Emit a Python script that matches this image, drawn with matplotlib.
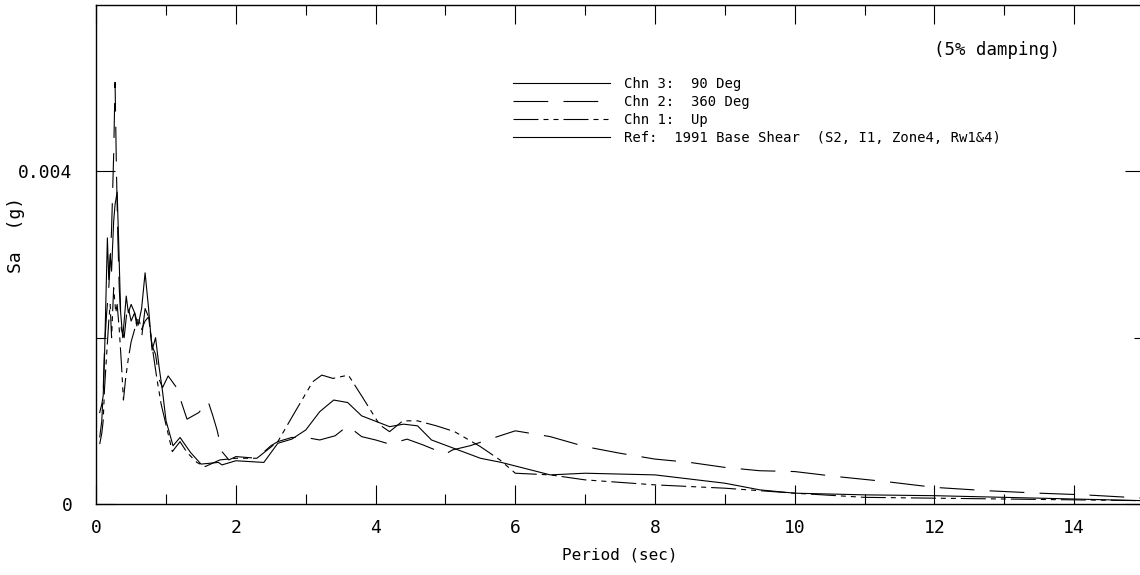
import numpy as np
import matplotlib
matplotlib.use("Agg")
import matplotlib.pyplot as plt
from matplotlib.lines import Line2D
from matplotlib.ticker import MultipleLocator, FixedLocator

# response spectra (Sa in g, period in sec)
chn3_period = [0.05, 0.08, 0.1, 0.12, 0.14, 0.16, 0.18, 0.2, 0.22, 0.25, 0.27, 0.3,
               0.32, 0.35, 0.38, 0.4, 0.43, 0.46, 0.5, 0.55, 0.6, 0.65, 0.7, 0.75,
               0.8, 0.85, 0.9, 0.95, 1.0, 1.1, 1.2, 1.35, 1.5, 1.75, 1.8, 2.0, 2.4,
               2.6, 2.8, 3.0, 3.2, 3.4, 3.6, 3.8, 4.2, 4.4, 4.6, 4.8, 5.5, 5.8, 6.5,
               7.0, 8.0, 9.0, 9.5, 10.0, 11.0, 12.0, 13.0, 14.0, 15.0]
chn3_sa = [1.10, 1.20, 1.30, 1.80, 2.50, 3.20, 2.70, 3.00, 2.80, 3.40, 3.60, 3.75,
           3.20, 2.30, 2.00, 2.20, 2.50, 2.30, 2.40, 2.30, 2.15, 2.35, 2.78, 2.35,
           1.85, 2.00, 1.65, 1.35, 1.00, 0.70, 0.80, 0.62, 0.48, 0.50, 0.47, 0.52, 0.50,
           0.73, 0.78, 0.89, 1.11, 1.25, 1.22, 1.06, 0.93, 0.96, 0.94, 0.77, 0.55, 0.50, 0.35,
           0.37, 0.35, 0.25, 0.17, 0.13, 0.11, 0.10, 0.08, 0.06, 0.04]

chn2_period = [0.05, 0.08, 0.1, 0.12, 0.15, 0.18, 0.2, 0.22, 0.25, 0.27, 0.29, 0.31,
               0.33, 0.36, 0.4, 0.45, 0.5, 0.55, 0.6, 0.65, 0.7, 0.75, 0.8, 0.85, 0.9,
               0.95, 1.03, 1.15, 1.3, 1.47, 1.6, 1.67, 1.73, 1.8, 1.9, 2.0, 2.3, 2.5,
               2.6, 2.8, 3.0, 3.2, 3.42, 3.6, 3.8, 4.0, 4.2, 4.45, 4.68, 5.0, 5.1, 5.35,
               5.78, 6.0, 6.5, 7.0, 7.5, 8.0, 8.5, 9.0, 9.5, 10.0, 10.6, 11.3, 12.0,
               12.75, 13.5, 14.15, 15.0]
chn2_sa = [0.80, 1.00, 1.35, 1.90, 2.30, 2.60, 2.90, 3.30, 4.20, 5.07, 4.00, 3.20,
           2.60, 2.10, 2.00, 2.40, 2.20, 2.30, 2.05, 2.00, 2.35, 2.25, 1.90, 1.80, 1.50,
           1.40, 1.54, 1.40, 1.02, 1.10, 1.24, 1.06, 0.89, 0.63, 0.53, 0.57, 0.55, 0.70,
           0.75, 0.80, 0.80, 0.77, 0.82, 0.94, 0.81, 0.77, 0.72, 0.78, 0.71, 0.60, 0.65, 0.70,
           0.82, 0.88, 0.81, 0.69, 0.61, 0.54, 0.50, 0.44, 0.40, 0.39, 0.33, 0.27, 0.20,
           0.16, 0.13, 0.11, 0.07]

chn1_period = [0.05, 0.08, 0.1, 0.12, 0.15, 0.18, 0.2, 0.22, 0.25, 0.28, 0.3, 0.33,
               0.36, 0.39, 0.42, 0.46, 0.5, 0.55, 0.6, 0.65, 0.7, 0.75, 0.8, 0.87, 0.93,
               1.0, 1.09, 1.2, 1.3, 1.44, 1.56, 1.77, 2.0, 2.3, 2.6, 2.82, 3.1, 3.23, 3.39,
               3.61, 3.8, 4.06, 4.2, 4.39, 4.6, 4.87, 5.13, 5.5, 5.78, 6.0, 6.5, 7.0, 8.0,
               9.0, 9.5, 10.0, 11.0, 12.0, 13.0, 14.0, 15.0]
chn1_sa = [0.72, 0.85, 1.00, 1.40, 1.80, 2.20, 2.40, 2.00, 2.60, 2.30, 2.40, 2.10,
           1.70, 1.25, 1.50, 1.75, 1.95, 2.10, 2.25, 2.10, 2.20, 2.25, 1.90, 1.50, 1.20,
           0.95, 0.63, 0.75, 0.62, 0.50, 0.45, 0.53, 0.55, 0.55, 0.75, 1.07, 1.47, 1.55, 1.51,
           1.55, 1.30, 0.95, 0.87, 1.00, 1.00, 0.94, 0.87, 0.69, 0.53, 0.37, 0.35, 0.29, 0.23,
           0.19, 0.16, 0.13, 0.08, 0.07, 0.06, 0.05, 0.04]

labels = ["Chn 3:  90 Deg", "Chn 2:  360 Deg", "Chn 1:  Up",
          "Ref:  1991 Base Shear  (S2, I1, Zone4, Rw1&4)"]

plt.rcParams['font.family'] = ['DejaVu Sans Mono', 'DejaVu Sans']
plt.rcParams['lines.scale_dashes'] = False

W, H = 1140, 575
fig = plt.figure(figsize=(W / 100, H / 100), dpi=100)
ax = fig.add_axes([96.2 / W, 71 / H, (1144 - 96.2) / W, 499 / H])

lw = 0.8
dash_long = (0, (25, 11))
dash_dot2 = (0, (18, 3.6, 3.6, 3.6, 3.6, 3.6))

ax.plot(chn3_period, np.array(chn3_sa) * 1e-3, color='black', lw=lw, ls='-')
ax.plot(chn2_period, np.array(chn2_sa) * 1e-3, color='black', lw=lw, ls=dash_long)
ax.plot(chn1_period, np.array(chn1_sa) * 1e-3, color='black', lw=lw, ls=dash_dot2)

ax.set_xlim(0, 15)
ax.set_ylim(0, 0.006)

ax.xaxis.set_major_locator(MultipleLocator(2))
ax.xaxis.set_minor_locator(MultipleLocator(1))
ax.yaxis.set_major_locator(FixedLocator([0, 0.004]))
ax.yaxis.set_minor_locator(FixedLocator([0.002]))
ax.set_xticklabels([str(int(v)) for v in ax.get_xticks()])
ax.set_yticklabels(["0", "0.004"])

ax.tick_params(which='both', direction='in', top=True, right=True, width=0.8, colors='black')
ax.tick_params(which='major', length=13.7)
ax.tick_params(which='minor', length=7.2)
ax.tick_params(axis='x', which='major', labelsize=13, pad=11)
ax.tick_params(axis='y', which='major', labelsize=13, pad=17)

for side in ['left', 'bottom', 'top']:
    ax.spines[side].set_linewidth(1.0)
ax.spines['right'].set_visible(False)

ax.set_xlabel("Period (sec)", fontsize=11.5, labelpad=7)
fig.text(16 / W, 1 - 235 / H, "Sa  (g)", rotation=90, ha='center', va='center', fontsize=13)

handles = [Line2D([], [], color='black', lw=lw, ls='-'),
           Line2D([], [], color='black', lw=lw, ls=dash_long),
           Line2D([], [], color='black', lw=lw, ls=dash_dot2),
           Line2D([], [], color='black', lw=lw, ls='-')]
fig.legend(handles, labels, loc='upper left', bbox_to_anchor=(513 / W, 1 - 77 / H),
           bbox_transform=fig.transFigure, frameon=False, fontsize=10,
           handlelength=6.95, handletextpad=1.05, labelspacing=0.28,
           borderpad=0, borderaxespad=0)

fig.text(1060 / W, 1 - 50 / H, "(5% damping)", ha='right', va='center', fontsize=12.5)

fig.savefig("out.png", dpi=100)
